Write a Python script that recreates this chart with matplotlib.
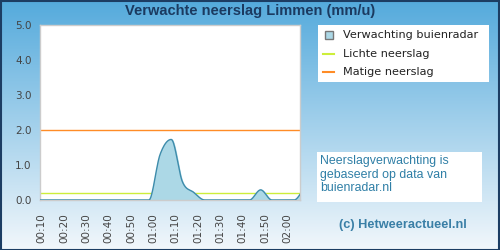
import numpy as np
import matplotlib
matplotlib.use("Agg")
import matplotlib.pyplot as plt
from matplotlib.patches import Rectangle

# forecast points (5 minute steps), minutes after 00:10
times = ["00:08", "00:13", "00:18", "00:23", "00:28", "00:33", "00:38", "00:43",
         "00:48", "00:53", "00:58", "01:03", "01:08", "01:13", "01:18", "01:23",
         "01:28", "01:33", "01:38", "01:43", "01:48", "01:53", "01:58", "02:03",
         "02:08"]
rain = [0, 0, 0, 0, 0, 0, 0, 0,
        0, 0, 0, 1.3, 1.73, 0.52, 0.22, 0,
        0, 0, 0, 0, 0.29, 0, 0, 0,
        0.3]
tick_labels = ["00:10", "00:20", "00:30", "00:40", "00:50", "01:00",
               "01:10", "01:20", "01:30", "01:40", "01:50", "02:00"]
light_rain = 0.2
moderate_rain = 2.0


def to_min(s):
    h, m = s.split(":")
    return int(h) * 60 + int(m) - 10


x = np.array([to_min(t) for t in times], dtype=float)
y = np.array(rain, dtype=float)

# smooth the line like a spline chart (monotone cubic through the points)
d = np.diff(y) / np.diff(x)
m = np.zeros_like(y)
for i in range(1, len(y) - 1):
    if d[i - 1] * d[i] > 0:
        m[i] = (d[i - 1] + d[i]) / 2
for i in range(len(d)):
    if d[i] == 0:
        m[i] = m[i + 1] = 0
    else:
        a, b = m[i] / d[i], m[i + 1] / d[i]
        s = a * a + b * b
        if s > 9:
            t = 3 / np.sqrt(s)
            m[i], m[i + 1] = t * a * d[i], t * b * d[i]
xs, ys = [], []
for i in range(len(d)):
    h = x[i + 1] - x[i]
    t = np.linspace(0, 1, 20)
    h00 = 2 * t**3 - 3 * t**2 + 1
    h10 = t**3 - 2 * t**2 + t
    h01 = -2 * t**3 + 3 * t**2
    h11 = t**3 - t**2
    xs.append(x[i] + t * h)
    ys.append(h00 * y[i] + h10 * h * m[i] + h01 * y[i + 1] + h11 * h * m[i + 1])
xs = np.concatenate(xs)
ys = np.clip(np.concatenate(ys), 0, None)

fig = plt.figure(figsize=(5, 2.5), dpi=100)

# background gradient
bg = fig.add_axes([0, 0, 1, 1], zorder=-10)
grad = np.linspace(0, 1, 256).reshape(-1, 1)
top = np.array([84, 170, 220]) / 255
bottom = np.array([242, 247, 251]) / 255
img = top + (bottom - top) * grad[..., None]
bg.imshow(img, aspect="auto", extent=[0, 1, 0, 1])
bg.set_axis_off()
fig.patches.append(Rectangle((0.001, 0.002), 0.997, 0.995, transform=fig.transFigure,
                             fill=False, edgecolor="#1c3d63", linewidth=1.5))

fig.text(0.5, 0.955, "Verwachte neerslag Limmen (mm/u)", ha="center", va="center",
         fontsize=10.5, fontweight="bold", color="#1b3a60", family="Liberation Sans")

ax = fig.add_axes([0.08, 0.2, 0.52, 0.7])
ax.set_facecolor("white")
ax.fill_between(xs, ys, 0, color="#acd8e6", zorder=2)
ax.plot(xs, ys, color="#3e8cab", linewidth=1, zorder=3)
ax.axhline(light_rain, color="#cdee3a", linewidth=1, zorder=1)
ax.axhline(moderate_rain, color="#ff8c26", linewidth=1, zorder=1)
ax.set_xlim(-0.7, 115.6)
ax.set_ylim(0, 5)
ax.set_yticks([0, 1, 2, 3, 4, 5])
ax.set_yticklabels(["0.0", "1.0", "2.0", "3.0", "4.0", "5.0"])
ax.set_xticks([to_min(t) for t in tick_labels])
ax.set_xticklabels(tick_labels, rotation=90)
ax.tick_params(length=0, labelsize=7.5, labelcolor="#444444", pad=6)
ax.tick_params(axis="x", pad=9.5)
for sp in ax.spines.values():
    sp.set_color("#cccccc")
    sp.set_linewidth(1)

# legend box
fig.patches.append(Rectangle((0.636, 0.672), 0.342, 0.228, transform=fig.transFigure,
                             facecolor="white", edgecolor="none"))
fig.patches.append(Rectangle((0.650, 0.843), 0.016, 0.032, transform=fig.transFigure,
                             facecolor="#acd8e6", edgecolor="#777777", linewidth=1))
fig.lines.append(plt.Line2D([0.646, 0.667], [0.785, 0.785], transform=fig.transFigure,
                            color="#cdee3a", linewidth=1.5))
fig.lines.append(plt.Line2D([0.646, 0.667], [0.712, 0.712], transform=fig.transFigure,
                            color="#ff8c26", linewidth=1.5))
legend_items = ["Verwachting buienradar", "Lichte neerslag", "Matige neerslag"]
for lbl, yy in zip(legend_items, [0.858, 0.785, 0.712]):
    fig.text(0.686, yy, lbl, va="center", fontsize=8.1, color="#222222")

# info box
fig.patches.append(Rectangle((0.634, 0.192), 0.33, 0.2, transform=fig.transFigure,
                             facecolor="white", edgecolor="none"))
fig.text(0.640, 0.380, "Neerslagverwachting is\ngebaseerd op data van\nbuienradar.nl",
         va="top", ha="left", fontsize=8.9, color="#2f7fa6", family="Liberation Sans",
         linespacing=1.18)

fig.text(0.806, 0.099, "(c) Hetweeractueel.nl", ha="center", va="center",
         fontsize=9.2, fontweight="bold", color="#3a7fa6", family="Liberation Sans")

fig.savefig("out.png", dpi=100)
